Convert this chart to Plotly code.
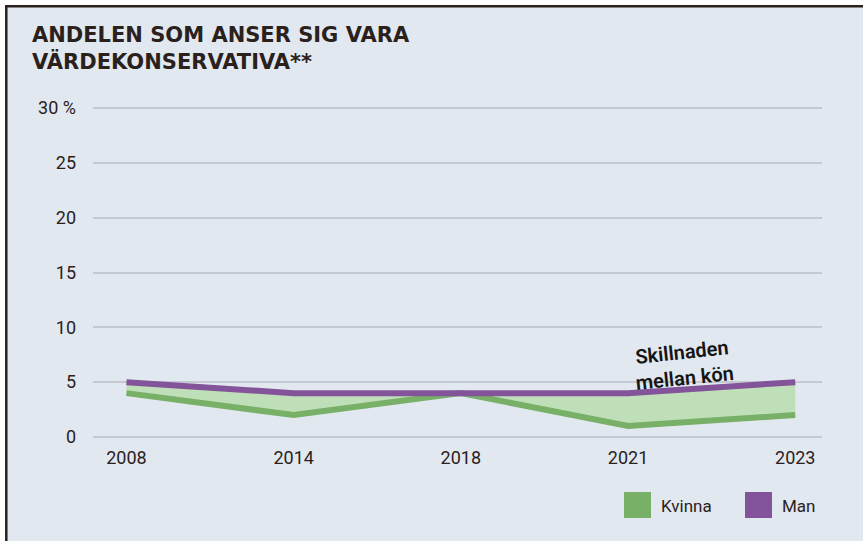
import plotly.graph_objects as go

years = ["2008", "2014", "2018", "2021", "2023"]
man = [5, 4, 4, 4, 5]
kvinna = [4, 2, 4, 1, 2]
ytick_vals = [0, 5, 10, 15, 20, 25, 30]
ytick_text = ["0", "5", "10", "15", "20", "25", "30 %"]

W, H = 863, 541
L, R, T, B = 93, 41, 100, 96
PW, PH = W - L - R, H - T - B

def px(x):
    return (x - L) / PW

def py(y):
    return 1 - (y - T) / PH

GREEN = "#78b068"
PURPLE = "#835499"
FILL = "#bfdfb9"
TXT = "#2b211c"
BG = "#e2e8f0"

fig = go.Figure()
fig.add_trace(go.Scatter(x=years, y=kvinna, mode="lines", line=dict(width=0, color=GREEN),
                         showlegend=False, hoverinfo="skip"))
fig.add_trace(go.Scatter(x=years, y=man, mode="lines", line=dict(width=0, color=PURPLE),
                         fill="tonexty", fillcolor=FILL, showlegend=False, hoverinfo="skip"))
fig.add_trace(go.Scatter(x=years, y=kvinna, mode="lines", name="Kvinna",
                         line=dict(width=6, color=GREEN), showlegend=False))
fig.add_trace(go.Scatter(x=years, y=man, mode="lines", name="Man",
                         line=dict(width=6, color=PURPLE), showlegend=False))

shapes = [
    dict(type="rect", xref="paper", yref="paper", x0=px(0), x1=px(W), y0=py(0), y1=py(5),
         fillcolor="white", line=dict(width=0), layer="below"),
    dict(type="rect", xref="paper", yref="paper", x0=px(0), x1=px(5), y0=py(0), y1=py(H),
         fillcolor="white", line=dict(width=0), layer="below"),
    dict(type="line", xref="paper", yref="paper", x0=px(5), x1=px(W), y0=py(6.3), y1=py(6.3),
         line=dict(color="#2b211c", width=2.5)),
    dict(type="line", xref="paper", yref="paper", x0=px(6.3), x1=px(6.3), y0=py(5), y1=py(H),
         line=dict(color="#2b211c", width=2.5)),
    # legend squares
    dict(type="rect", xref="paper", yref="paper", x0=px(624), x1=px(651), y0=py(518), y1=py(492),
         fillcolor=GREEN, line=dict(width=0)),
    dict(type="rect", xref="paper", yref="paper", x0=px(745), x1=px(772), y0=py(518), y1=py(492),
         fillcolor=PURPLE, line=dict(width=0)),
]

annotations = [
    dict(text="ANDELEN SOM ANSER SIG VARA<br>VÄRDEKONSERVATIVA**", xref="paper", yref="paper",
         x=px(30), y=py(49), xanchor="left", yanchor="middle", showarrow=False, align="left",
         font=dict(family="DejaVu Sans", size=21, color=TXT, weight="bold")),
    dict(text="Skillnaden<br>mellan kön", x=3.33, y=6.6, xref="x", yref="y", showarrow=False,
         textangle=-6, font=dict(family="Roboto", size=20, color="#151515", weight=600)),
    dict(text="Kvinna", xref="paper", yref="paper", x=px(659), y=py(506), xanchor="left",
         yanchor="middle", showarrow=False, font=dict(family="Roboto", size=17, color=TXT)),
    dict(text="Man", xref="paper", yref="paper", x=px(780), y=py(506), xanchor="left",
         yanchor="middle", showarrow=False, font=dict(family="Roboto", size=17, color=TXT)),
]

fig.update_layout(
    width=W, height=H,
    margin=dict(l=L, r=R, t=T, b=B, pad=0),
    paper_bgcolor=BG, plot_bgcolor=BG,
    shapes=shapes, annotations=annotations,
    xaxis=dict(type="category", range=[-0.2, 4.16], showgrid=False, zeroline=False,
               showline=False, ticks="", ticklabelstandoff=0,
               tickfont=dict(family="Roboto", size=18, color=TXT)),
    yaxis=dict(range=[-0.73, 30.73], tickvals=ytick_vals, ticktext=ytick_text,
               showgrid=True, gridcolor="#c6c8d2", gridwidth=1.5, zeroline=False,
               showline=False, ticks="", ticklabelstandoff=16,
               tickfont=dict(family="Roboto", size=18, color=TXT)),
)

fig.write_html("out.html", config={"displayModeBar": False},
               post_script="document.body.style.margin='0';document.body.style.overflow='hidden';")
